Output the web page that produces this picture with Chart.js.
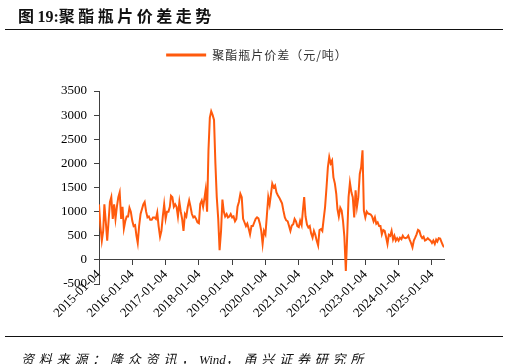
<!DOCTYPE html>
<html>
<head>
<meta charset="utf-8">
<script src="https://cdn.jsdelivr.net/npm/chart.js@4.4.1/dist/chart.umd.min.js"></script>
<style>
  body { margin: 0; background: #fff; }
  #wrap { position: relative; width: 509px; height: 364px; overflow: hidden; }
  #chart { position: absolute; left: 0; top: 0; }
  .title { position: absolute; left: 18px; top: 7px; font: bold 16px "Liberation Serif", "Noto Sans CJK SC"; color: #111; line-height: 20px; white-space: nowrap; }
  .title .cj { letter-spacing: 3.5px; }
  .rule { position: absolute; left: 5px; width: 498px; height: 0; border-top: 1.5px solid #111; }
  .source { position: absolute; left: 21px; top: 350px; font: italic 13px "Liberation Serif", "Noto Sans CJK SC"; color: #111; line-height: 20px; white-space: nowrap; }
  .source .cj { letter-spacing: 4.8px; }
</style>
</head>
<body>
<div id="wrap">
  <canvas id="chart" width="509" height="364"></canvas>
  <div class="title"><span class="cj">图</span>19:<span class="cj">聚酯瓶片价差走势</span></div>
  <div class="rule" style="top:29px"></div>
  <div class="rule" style="top:336px"></div>
  <div class="source"><span class="cj">资料来源：隆众资讯，</span>Wind<span class="cj">，甬兴证券研究所</span></div>
</div>
<script>
// 半月取点的日期
const dates = [
  '2015-01-04','2015-01-19','2015-02-04','2015-02-19','2015-03-04','2015-03-19','2015-04-04','2015-04-19','2015-05-04','2015-05-19','2015-06-04','2015-06-19',
  '2015-07-04','2015-07-19','2015-08-04','2015-08-19','2015-09-04','2015-09-19','2015-10-04','2015-10-19','2015-11-04','2015-11-19','2015-12-04','2015-12-19',
  '2016-01-04','2016-01-19','2016-02-04','2016-02-19','2016-03-04','2016-03-19','2016-04-04','2016-04-19','2016-05-04','2016-05-19','2016-06-04','2016-06-19',
  '2016-07-04','2016-07-19','2016-08-04','2016-08-19','2016-09-04','2016-09-19','2016-10-04','2016-10-19','2016-11-04','2016-11-19','2016-12-04','2016-12-19',
  '2017-01-04','2017-01-19','2017-02-04','2017-02-19','2017-03-04','2017-03-19','2017-04-04','2017-04-19','2017-05-04','2017-05-19','2017-06-04','2017-06-19',
  '2017-07-04','2017-07-19','2017-08-04','2017-08-19','2017-09-04','2017-09-19','2017-10-04','2017-10-19','2017-11-04','2017-11-19','2017-12-04','2017-12-19',
  '2018-01-04','2018-01-19','2018-02-04','2018-02-19','2018-03-04','2018-03-19','2018-04-04','2018-04-19','2018-05-04','2018-05-19','2018-06-04','2018-06-19',
  '2018-07-04','2018-07-19','2018-08-04','2018-08-19','2018-09-04','2018-09-19','2018-10-04','2018-10-19','2018-11-04','2018-11-19','2018-12-04','2018-12-19',
  '2019-01-04','2019-01-19','2019-02-04','2019-02-19','2019-03-04','2019-03-19','2019-04-04','2019-04-19','2019-05-04','2019-05-19','2019-06-04','2019-06-19',
  '2019-07-04','2019-07-19','2019-08-04','2019-08-19','2019-09-04','2019-09-19','2019-10-04','2019-10-19','2019-11-04','2019-11-19','2019-12-04','2019-12-19',
  '2020-01-04','2020-01-19','2020-02-04','2020-02-19','2020-03-04','2020-03-19','2020-04-04','2020-04-19','2020-05-04','2020-05-19','2020-06-04','2020-06-19',
  '2020-07-04','2020-07-19','2020-08-04','2020-08-19','2020-09-04','2020-09-19','2020-10-04','2020-10-19','2020-11-04','2020-11-19','2020-12-04','2020-12-19',
  '2021-01-04','2021-01-19','2021-02-04','2021-02-19','2021-03-04','2021-03-19','2021-04-04','2021-04-19','2021-05-04','2021-05-19','2021-06-04','2021-06-19',
  '2021-07-04','2021-07-19','2021-08-04','2021-08-19','2021-09-04','2021-09-19','2021-10-04','2021-10-19','2021-11-04','2021-11-19','2021-12-04','2021-12-19',
  '2022-01-04','2022-01-19','2022-02-04','2022-02-19','2022-03-04','2022-03-19','2022-04-04','2022-04-19','2022-05-04','2022-05-19','2022-06-04','2022-06-19',
  '2022-07-04','2022-07-19','2022-08-04','2022-08-19','2022-09-04','2022-09-19','2022-10-04','2022-10-19','2022-11-04','2022-11-19','2022-12-04','2022-12-19',
  '2023-01-04','2023-01-19','2023-02-04','2023-02-19','2023-03-04','2023-03-19','2023-04-04','2023-04-19','2023-05-04','2023-05-19','2023-06-04','2023-06-19',
  '2023-07-04','2023-07-19','2023-08-04','2023-08-19','2023-09-04','2023-09-19','2023-10-04','2023-10-19','2023-11-04','2023-11-19','2023-12-04','2023-12-19',
  '2024-01-04','2024-01-19','2024-02-04','2024-02-19','2024-03-04','2024-03-19','2024-04-04','2024-04-19','2024-05-04','2024-05-19','2024-06-04','2024-06-19',
  '2024-07-04','2024-07-19','2024-08-04','2024-08-19','2024-09-04','2024-09-19','2024-10-04','2024-10-19','2024-11-04','2024-11-19','2024-12-04','2024-12-19',
  '2025-01-04','2025-01-19','2025-02-04','2025-02-19','2025-03-04','2025-03-19','2025-04-04','2025-04-19','2025-05-04','2025-05-16'
];

// 聚酯瓶片价差（元/吨）
const spread = [
  1150,700,400,600,1150,800,400,800,1200,1300,850,1150,850,1100,1300,1400,850,1100,650,800,900,900,1080,1000,
  810,700,720,500,350,700,950,1050,1150,1200,1000,880,900,830,830,880,880,850,980,700,480,600,900,1150,
  850,1000,1000,1100,1330,1300,1100,1150,1100,900,1200,1000,850,600,950,900,1100,1230,1100,950,880,900,850,780,
  760,1160,1230,1100,1250,1450,1000,2270,2950,3080,3000,2900,2000,1300,850,200,600,1250,1000,900,950,880,900,950,
  880,900,800,850,1100,1200,1370,1300,850,780,700,750,650,530,700,700,780,850,880,860,750,600,330,600,
  530,900,1300,1150,1350,1580,1500,1540,1400,1340,1290,1230,1170,1020,880,820,800,700,600,710,740,850,800,700,
  680,810,720,1050,1300,900,730,670,700,550,460,600,520,400,300,620,640,600,850,1090,1500,1920,2130,2000,
  2060,1710,1580,1370,1050,900,1080,1020,810,480,-230,500,1300,1600,1400,1300,880,1440,1100,1300,1780,1920,2270,1020,
  880,1000,960,950,940,900,800,880,750,780,700,700,530,620,600,480,330,520,500,600,420,500,400,450,
  400,460,430,500,460,450,460,500,420,350,260,400,460,530,620,600,500,450,480,400,420,450,420,400,
  350,400,330,420,380,450,440,370,300,260
];

const tickLabels = ['2015-01-04','2016-01-04','2017-01-04','2018-01-04','2019-01-04','2020-01-04',
  '2021-01-04','2022-01-04','2023-01-04','2024-01-04','2025-01-04'];

const lineColor = '#FF5A0D';
const axisColor = '#404040';
const tickFont = { family: 'Liberation Serif', size: 13 };

// 图例：加大与绘图区的间距，并拉开字距
const legendTweak = {
  id: 'legendTweak',
  afterInit(chart) {
    const lg = chart.legend;
    const fit = lg.fit;
    const draw = lg.draw;
    lg.fit = function () { fit.call(this); this.height += 20; };
    lg.draw = function () {
      const ctx = this.ctx;
      ctx.save();
      ctx.letterSpacing = '1px';
      draw.call(this);
      ctx.restore();
    };
  }
};

new Chart(document.getElementById('chart'), {
  type: 'line',
  data: {
    datasets: [{
      label: '聚酯瓶片价差（元/吨）',
      data: dates.map((d, i) => ({ x: Date.parse(d), y: spread[i] })),
      borderColor: lineColor,
      backgroundColor: lineColor,
      borderWidth: 2,
      pointRadius: 0,
      tension: 0
    }]
  },
  options: {
    responsive: false,
    animation: false,
    layout: { padding: { left: 59, right: 65, top: 39, bottom: 80 } },
    plugins: {
      tooltip: { enabled: false },
      legend: {
        position: 'top',
        labels: {
          boxWidth: 40,
          boxHeight: 3,
          padding: 10,
          color: '#333',
          font: { family: 'Noto Sans CJK SC', size: 12 },
          generateLabels(chart) {
            const items = Chart.defaults.plugins.legend.labels.generateLabels(chart);
            items.forEach(it => { it.lineWidth = 0; });
            return items;
          }
        }
      }
    },
    scales: {
      x: {
        type: 'linear',
        position: { y: 0 },
        min: Date.parse(dates[0]),
        max: Date.parse(dates[dates.length - 1]),
        afterBuildTicks(scale) {
          scale.ticks = tickLabels.map(t => ({ value: Date.parse(t) }));
        },
        grid: { drawOnChartArea: false, tickLength: 5, color: axisColor },
        border: { color: axisColor, width: 1 },
        ticks: {
          autoSkip: false,
          minRotation: 45,
          maxRotation: 45,
          padding: 2,
          color: '#000',
          font: tickFont,
          callback: (v, i) => tickLabels[i]
        }
      },
      y: {
        min: -500,
        max: 3500,
        afterFit(scale) { scale.width = 40; },
        grid: { drawOnChartArea: false, tickLength: 5, color: axisColor },
        border: { color: axisColor, width: 1 },
        ticks: { stepSize: 500, padding: 7, color: '#000', font: tickFont, callback: v => String(v) }
      }
    }
  },
  plugins: [legendTweak]
});
</script>
</body>
</html>
